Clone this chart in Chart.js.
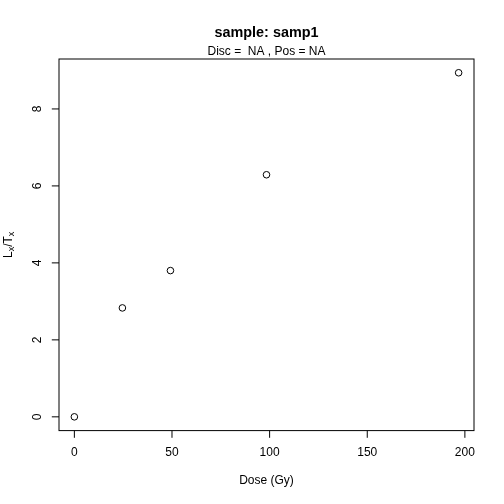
<!DOCTYPE html>
<html>
<head>
<meta charset="utf-8">
<script src="https://cdn.jsdelivr.net/npm/chart.js@4/dist/chart.umd.min.js"></script>
<style>
  html, body { margin: 0; padding: 0; background: #fff; }
  #wrap { width: 504px; height: 504px; }
</style>
</head>
<body>
<div id="wrap"><canvas id="chart" width="504" height="504"></canvas></div>
<script>
  // values
  const doses = [0, 24.6, 49.2, 98.4, 196.8];
  const ratios = [0, 2.83, 3.80, 6.29, 8.94];
  const xTicks = [0, 50, 100, 150, 200];
  const yTicks = [0, 2, 4, 6, 8];
  const titleText = 'sample: samp1';
  const subText = 'Disc =  NA , Pos = NA';
  const xLabel = 'Dose (Gy)';

  const font = '"Liberation Sans", Arial, Helvetica, sans-serif';
  const line = 14.4; // one R margin line

  // R pads the data range by 4 % on each side
  function padRange(vals) {
    const lo = Math.min.apply(null, vals), hi = Math.max.apply(null, vals);
    const d = (hi - lo) * 0.04;
    return [lo - d, hi + d];
  }
  const xr = padRange(doses);
  const yr = padRange(ratios);

  const rAxes = {
    id: 'rAxes',
    afterDraw(chart) {
      const ctx = chart.ctx;
      const a = chart.chartArea;
      const xs = chart.scales.x, ys = chart.scales.y;
      ctx.save();
      ctx.strokeStyle = '#000';
      ctx.fillStyle = '#000';
      ctx.lineWidth = 1;

      // box
      ctx.strokeRect(a.left, a.top, a.right - a.left, a.bottom - a.top);

      // x axis ticks + labels
      ctx.font = '12px ' + font;
      ctx.textAlign = 'center';
      ctx.textBaseline = 'middle';
      ctx.beginPath();
      xTicks.forEach(v => {
        const px = xs.getPixelForValue(v);
        ctx.moveTo(px, a.bottom);
        ctx.lineTo(px, a.bottom + 7.2);
      });
      ctx.stroke();
      xTicks.forEach(v => {
        ctx.fillText(String(v), xs.getPixelForValue(v), a.bottom + 1.5 * line);
      });

      // y axis ticks + rotated labels
      ctx.beginPath();
      yTicks.forEach(v => {
        const py = ys.getPixelForValue(v);
        ctx.moveTo(a.left, py);
        ctx.lineTo(a.left - 7.2, py);
      });
      ctx.stroke();
      yTicks.forEach(v => {
        ctx.save();
        ctx.translate(a.left - 1.5 * line, ys.getPixelForValue(v));
        ctx.rotate(-Math.PI / 2);
        ctx.fillText(String(v), 0, 0);
        ctx.restore();
      });

      const cx = (a.left + a.right) / 2;
      const cy = (a.top + a.bottom) / 2;

      // x title
      ctx.fillText(xLabel, cx, a.bottom + 3.5 * line);

      // y title L_x/T_x
      ctx.save();
      ctx.translate(a.left - 3.5 * line, cy);
      ctx.rotate(-Math.PI / 2);
      const big = '12px ' + font, small = '9px ' + font;
      const parts = [['L', big, 0], ['x', small, 3], ['/T', big, 0], ['x', small, 3]];
      let total = 0;
      parts.forEach(p => { ctx.font = p[1]; total += ctx.measureText(p[0]).width; });
      let x0 = -total / 2;
      ctx.textAlign = 'left';
      parts.forEach(p => {
        ctx.font = p[1];
        ctx.fillText(p[0], x0, p[2]);
        x0 += ctx.measureText(p[0]).width;
      });
      ctx.restore();

      // titles
      ctx.textAlign = 'center';
      ctx.font = 'bold 14.4px ' + font;
      ctx.fillText(titleText, cx, 33);
      ctx.font = '12px ' + font;
      ctx.fillText(subText, cx, a.top - 0.5 * line);

      ctx.restore();
    }
  };

  new Chart(document.getElementById('chart'), {
    type: 'scatter',
    data: {
      datasets: [{
        data: doses.map((d, i) => ({ x: d, y: ratios[i] })),
        pointStyle: 'circle',
        pointRadius: 3.3,
        pointHoverRadius: 3.3,
        borderColor: '#000',
        backgroundColor: 'rgba(0,0,0,0)',
        borderWidth: 1,
      }],
    },
    options: {
      responsive: false,
      animation: false,
      devicePixelRatio: 1,
      layout: { padding: { left: 59, top: 59, right: 30, bottom: 73.4 } },
      plugins: { legend: { display: false }, tooltip: { enabled: false } },
      scales: {
        x: { type: 'linear', display: false, min: xr[0], max: xr[1] },
        y: { type: 'linear', display: false, min: yr[0], max: yr[1] },
      },
    },
    plugins: [rAxes],
  });
</script>
</body>
</html>
